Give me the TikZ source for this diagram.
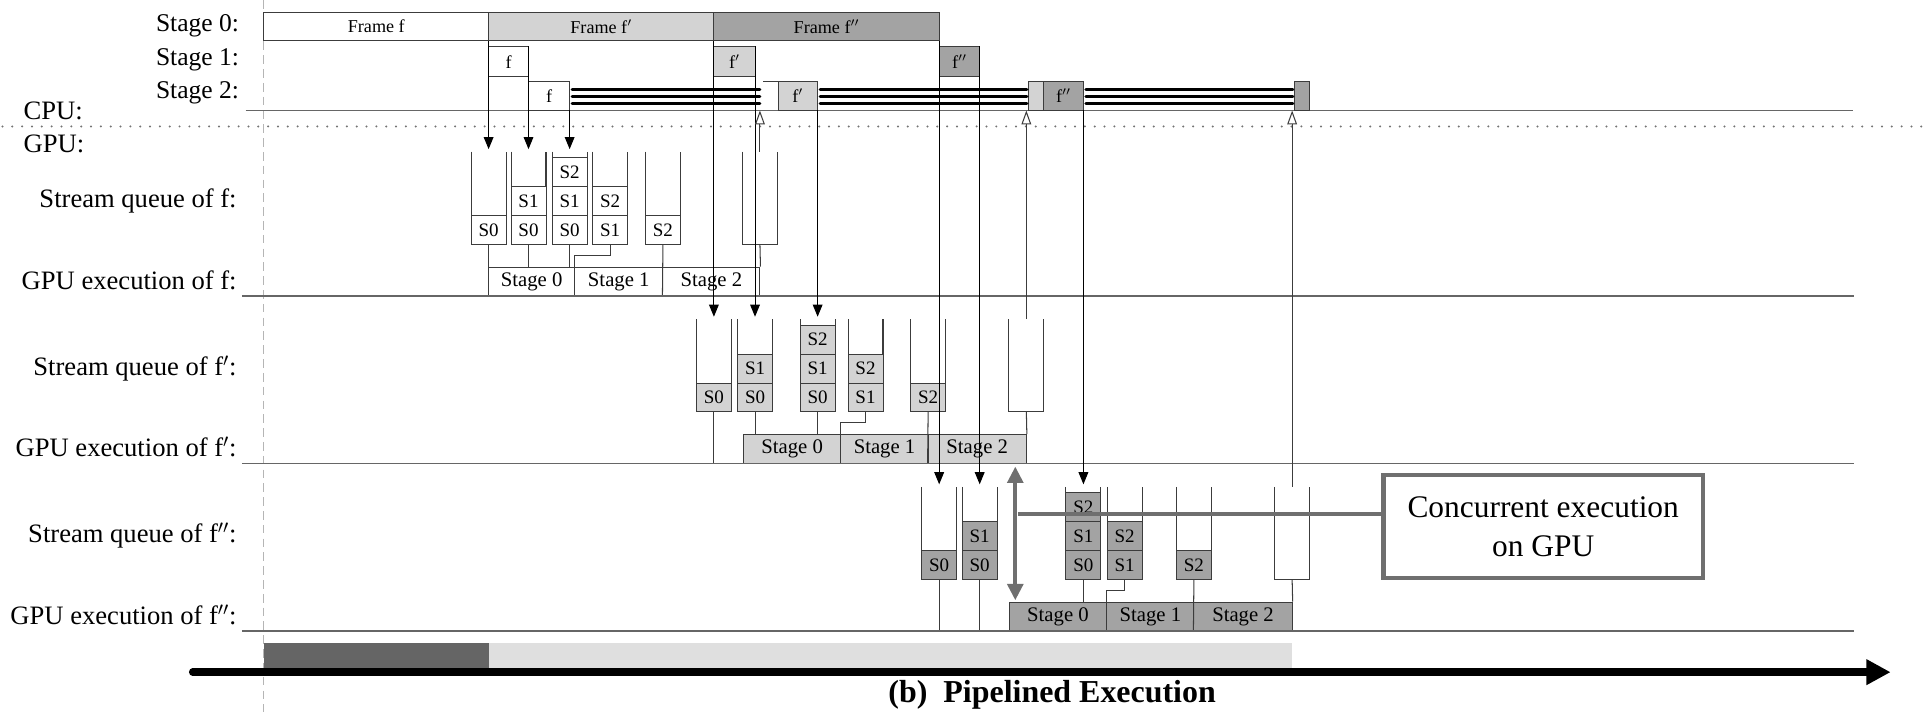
\documentclass[tikz,border=0pt]{standalone}
\usepackage{fontspec}
\setmainfont{Liberation Serif}
\usetikzlibrary{arrows.meta}

\definecolor{ink}{HTML}{3C3C3C}
\definecolor{axisgray}{HTML}{666666}
\definecolor{fone}{HTML}{D3D3D3}
\definecolor{ftwo}{HTML}{A3A3A3}
\definecolor{cgray}{HTML}{6F6F6F}
\definecolor{bardark}{HTML}{656565}
\definecolor{barlight}{HTML}{DFDFDF}
\definecolor{guidegray}{HTML}{B5B5B5}

\tikzset{
  lbl/.style={font=\fontsize{15.4}{18}\selectfont, inner sep=0pt},
  rowlbl/.style={font=\fontsize{14.8}{17}\selectfont, inner sep=0pt, anchor=base east},
  thin/.style={draw=ink, line width=0.6pt},
  axisline/.style={draw=axisgray, line width=0.8pt},
  cpubox/.style={draw=ink, line width=0.6pt, inner sep=0pt, font=\fontsize{10.5}{12}\selectfont},
  sbox/.style={draw=ink, line width=0.6pt, inner sep=0pt, font=\fontsize{11}{12}\selectfont},
  exbox/.style={draw=ink, line width=0.6pt, inner sep=0pt, font=\fontsize{12}{14}\selectfont},
  enq/.style={draw=black, line width=0.6pt, -{Triangle[length=7pt,width=5.6pt]}},
  sync/.style={draw=ink, line width=0.6pt, -{Triangle[open,length=8pt,width=5.6pt,fill=white]}},
  waitline/.style={draw=black, line width=1.8pt, line cap=round},
  conc/.style={draw=cgray, line width=2.4pt},
}

% box between (#3,#4) and (#5,#6): style, name, x1, y1, x2, y2, fill, text
\newcommand\rbx[8]{%
  \node[#1, fill=#7, minimum width={(#5-(#3))*0.025cm}, minimum height={(#6-(#4))*0.025cm}]
    (#2) at ({(#3+#5)/2},{(#4+#6)/2}) {#8};
}
% open-top stream queue centred at x=#2 (section baseline \secy)
\newcommand\qcont[2]{%
  \draw[thin] ({#2-14.25},{\secy-117.5}) -- ({#2-14.25},{\secy-42}) -- ({#2+14.25},{\secy-42}) -- ({#2+14.25},{\secy-117.5});
  \coordinate (#1-t) at ({#2},{\secy-117.5});
  \coordinate (#1-a) at ({#2},{\secy-119.5});
  \coordinate (#1-b) at ({#2},{\secy-42});
}
% stored stage inside a queue: name, x, level, fill, text
\newcommand\sbx[5]{%
  \node[sbox, fill=#4, minimum width=0.7125cm, minimum height=0.5875cm]
    (#1) at ({#2},{\secy-53.75-23.5*#3}) {#5};
}
% one GPU section: prefix, fill, target of second stem, frame name
\newcommand\gpusec[4]{%
  \coordinate (#1E) at (0,\secy);
  \node[lbl, anchor=base east] (#1lq) at (193,{\secy-72}) {Stream queue of #4:};
  \node[lbl, anchor=base east] (#1lx) at (193,{\secy-5.5}) {GPU execution of #4:};
  \qcont{#1q1}{\qA}\qcont{#1q2}{\qB}\qcont{#1q3}{\qC}%
  \qcont{#1q4}{\qD}\qcont{#1q5}{\qE}\qcont{#1q6}{\qF}%
  \sbx{#1q1s0}{\qA}{0}{#2}{S0}
  \sbx{#1q2s0}{\qB}{0}{#2}{S0}
  \sbx{#1q2s1}{\qB}{1}{#2}{S1}
  \sbx{#1q3s0}{\qC}{0}{#2}{S0}
  \sbx{#1q3s1}{\qC}{1}{#2}{S1}
  \sbx{#1q3s2}{\qC}{2}{#2}{S2}
  \sbx{#1q4s1}{\qD}{0}{#2}{S1}
  \sbx{#1q4s2}{\qD}{1}{#2}{S2}
  \sbx{#1q5s2}{\qE}{0}{#2}{S2}
  \rbx{exbox}{#1x0}{\xA}{\secy-23.5}{\xB}{\secy}{#2}{Stage 0}
  \rbx{exbox}{#1x1}{\xB}{\secy-23.5}{\qE}{\secy}{#2}{Stage 1}
  \rbx{exbox}{#1x2}{\qE}{\secy-23.5}{\qF}{\secy}{#2}{Stage 2}
  \draw[thin] (#1q1-b) -- (#1q1-b |- #1E);
  \draw[thin] (#1q2-b) -- (#1q2-b |- #3);
  \draw[thin] (#1q3-b) -- (#1q3-b |- #1x0.north);
  \draw[thin] (#1q4-b) -- ({\qD},{\secy-33}) -| (#1x1.south west);
  \draw[thin] (#1q5-b) -- (#1x2.south west);
  \draw[thin] (#1q6-b) -- (#1x2.north east);
  \draw[axisline] (197,\secy) -- (1510,\secy);
}

\begin{document}
\begin{tikzpicture}[x=0.025cm, y=-0.025cm]
\useasboundingbox (0,0) rectangle (1568,580);

% time origin and CPU/GPU divider
\draw[guidegray, line width=0.6pt, dash pattern=on 5pt off 3pt] (215,0) -- (215,580);
\draw[black!55, line width=1.3pt, line cap=round, dash pattern=on 0pt off 5.7pt] (2,103) -- (1568,103);

% row labels
\node[rowlbl] (l0) at (195,25.5) {Stage 0:};
\node[rowlbl] (l1) at (195,53.5) {Stage 1:};
\node[rowlbl] (l2) at (195,80.5) {Stage 2:};
\node[lbl, anchor=base west] (lcpu) at (19,97) {CPU:};
\node[lbl, anchor=base west] (lgpu) at (19,124) {GPU:};

% CPU time line
\coordinate (cpuL) at (200,90);
\coordinate (cpuR) at (1509,90);
\draw[axisline] (cpuL) -- (cpuR);

% CPU stage 0
\rbx{cpubox}{frA}{215}{10}{398}{33}{white}{Frame f}
\rbx{cpubox}{frB}{398}{10}{581.5}{33}{fone}{Frame f$'$}
\rbx{cpubox}{frC}{581.5}{10}{765}{33}{ftwo}{Frame f$''$}
% CPU stage 1
\rbx{cpubox}{s1A}{398}{38}{430.5}{62.5}{white}{f}
\rbx{cpubox}{s1B}{581.5}{38}{615}{62.5}{fone}{f$'$}
\rbx{cpubox}{s1C}{765}{38}{798}{62.5}{ftwo}{f$''$}
% CPU stage 2
\rbx{cpubox}{s2A}{430.5}{66}{464}{90}{white}{f}
\draw[thin] (621.5,66) -- (633.8,66);
\rbx{cpubox}{s2B}{633.8}{66}{666}{90}{fone}{f$'$}
\rbx{cpubox}{s2Bt}{838}{66}{850}{90}{fone}{}
\rbx{cpubox}{s2C}{850}{66}{882.5}{90}{ftwo}{f$''$}
\rbx{cpubox}{s2Ct}{1054.5}{66}{1067}{90}{ftwo}{}
% CPU waiting for the GPU
\foreach \yy in {72.8,78.4,84.2} {
  \draw[waitline] (466,\yy) -- (619,\yy);
  \draw[waitline] (668,\yy) -- (836.5,\yy);
  \draw[waitline] (884.5,\yy) -- (1053,\yy);
}

% GPU sections
\def\secy{241}\def\qA{398}\def\qB{430.5}\def\qC{464}\def\qD{497}\def\qE{540}\def\qF{619}\def\xA{398}\def\xB{468}
\gpusec{fA}{white}{fAx0.north}{f}
\def\secy{377.5}\def\qA{581.5}\def\qB{615}\def\qC{666}\def\qD{705}\def\qE{756}\def\qF{836}\def\xA{605.5}\def\xB{685}
\gpusec{fB}{fone}{fBx0.north}{f$'$}
\def\secy{514}\def\qA{765}\def\qB{798}\def\qC{882.5}\def\qD{916}\def\qE{972.5}\def\qF{1052.5}\def\xA{822}\def\xB{901.5}
\gpusec{fC}{ftwo}{fCE}{f$''$}

% enqueue events
\draw[enq] (fAq1-a |- frA.south) -- (fAq1-a);
\draw[enq] (fAq2-a |- s1A.north) -- (fAq2-a);
\draw[enq] (fAq3-a |- cpuL) -- (fAq3-a);
\draw[enq] (fBq1-a |- frB.south) -- (fBq1-a);
\draw[enq] (fBq2-a |- s1B.north) -- (fBq2-a);
\draw[enq] (fBq3-a |- cpuL) -- (fBq3-a);
\draw[enq] (fCq1-a |- frC.south) -- (fCq1-a);
\draw[enq] (fCq2-a |- s1C.north) -- (fCq2-a);
\draw[enq] (fCq3-a |- cpuL) -- (fCq3-a);

% completion events
\draw[sync] (fAq6-t) -- (fAq6-t |- cpuL);
\draw[sync] (fBq6-t) -- (fBq6-t |- cpuL);
\draw[sync] (fCq6-t) -- (fCq6-t |- cpuL);

% concurrency annotation
\node[draw=cgray, line width=2.4pt, fill=white, minimum width=6.5cm, minimum height=2.1cm,
      align=center, font=\fontsize{18.2}{22.8}\selectfont] (conc) at (1257,429) {Concurrent execution\\on GPU};
\coordinate (ctop) at (827,380);
\coordinate (cbot) at (827,489);
\draw[conc, {Triangle[length=9.5pt,width=9pt]}-{Triangle[length=9.5pt,width=9pt]}] (ctop) -- (cbot);
\coordinate (cj) at (829,419);
\draw[conc] (cj) -- (cj -| conc.west);

% busy periods and time axis
\fill[bardark] (215,523.5) rectangle (398,545);
\fill[barlight] (398,523.5) rectangle (1052.5,545);
\coordinate (tl) at (157,547.5);
\coordinate (tr) at (1540,547.5);
\draw[line width=4.4pt, line cap=round, -{Triangle[length=14pt,width=14pt]}] (tl) -- (tr);
\node[font=\bfseries\fontsize{18.5}{22}\selectfont, inner sep=0pt] (cap) at (857,566) {(b)\ \ Pipelined Execution};
\end{tikzpicture}
\end{document}
